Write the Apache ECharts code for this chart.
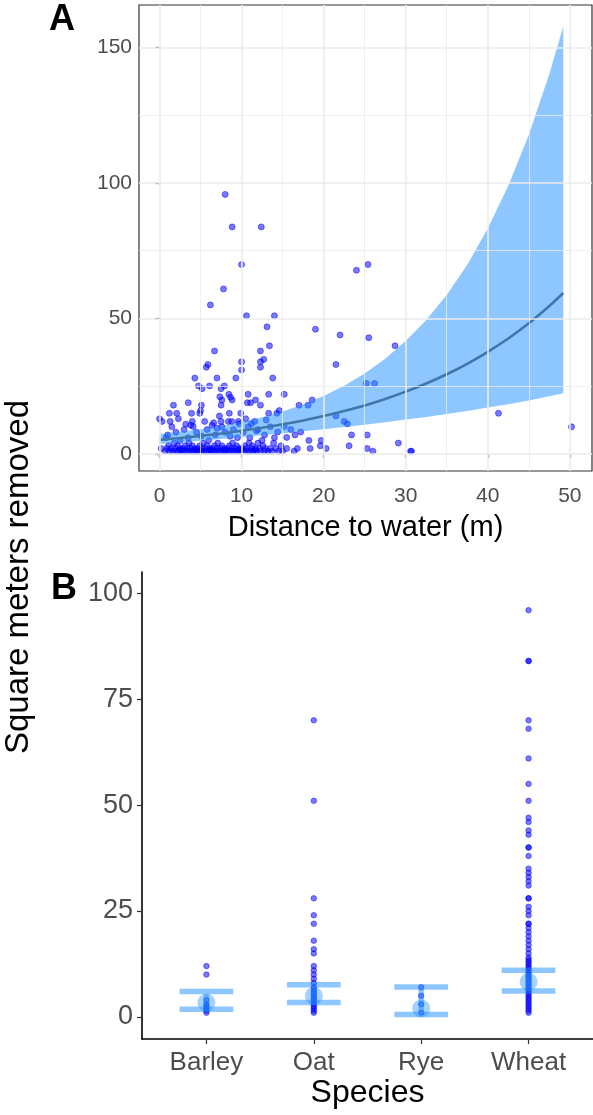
<!DOCTYPE html>
<html><head><meta charset="utf-8">
<script src="https://cdn.jsdelivr.net/npm/echarts@6/dist/echarts.min.js"></script>
<style>html,body{margin:0;padding:0;background:#fff}#c{width:593px;height:1115px}</style>
</head><body><div id="c"></div>
<script>
// ---------- Panel A data: distance to water (m) vs square meters removed ----------
const pointsA = [
  [8.0,95.8],[8.85,83.8],[12.4,83.8],[10.0,69.9],[25.4,69.9],[24.0,67.8],[7.8,60.9],[6.2,55.0],[10.6,51.0],[14.0,51.0],
  [13.1,46.9],[19.0,46.0],[22.0,43.9],[25.5,42.9],[28.7,39.9],[6.7,38.0],[12.3,38.0],[13.4,39.9],[12.7,34.9],[12.3,34.0],
  [10.0,34.0],[10.0,31.0],[12.3,32.0],[5.9,33.0],[5.7,32.0],[21.5,33.0],
  [4.3,28.0],[7.0,28.0],[9.3,28.0],[13.8,28.0],[4.75,25.1],[5.2,24.1],[6.1,25.1],[7.5,24.1],[7.9,25.1],[10.8,22.0],
  [13.3,22.0],[15.2,22.0],[7.35,21.1],[8.45,22.0],[8.65,20.9],[8.85,19.9],[7.6,19.9],[3.5,18.9],[1.7,18.0],[5.1,18.0],
  [7.5,18.0],[10.7,18.9],[11.1,18.9],[11.7,19.9],[12.3,18.0],[17.0,18.0],[18.1,18.0],[18.6,19.9],[25.2,26.0],[26.2,26.0],
  [5.0,16.0],[4.9,15.0],[3.9,15.0],[1.2,15.0],[2.1,15.0],[8.5,15.0],[9.9,15.0],[13.3,15.0],[14.3,15.0],[14.6,16.0],[41.3,15.0],
  [0.0,13.0],[0.3,12.0],[2.3,13.0],[1.3,12.0],[7.3,14.0],[21.5,14.0],[22.5,12.0],[22.9,11.1],[4.1,10.1],[3.8,10.6],
  [6.4,10.6],[6.6,11.5],[7.5,12.0],[7.6,10.0],[8.4,12.0],[8.8,12.0],[9.6,12.0],[9.7,11.1],[11.2,11.1],[11.6,12.0],
  [15.2,10.1],[14.4,8.1],[17.2,8.1],[15.5,6.1],[18.2,5.0],[19.7,5.0],[23.4,7.0],[25.3,7.0],[50.2,10.0],[1.0,7.0],
  [2.0,8.0],[3.0,9.0],[4.5,8.0],[5.1,6.6],[5.8,9.0],[6.8,7.0],[8.0,8.0],[9.0,9.0],[10.2,8.0],[11.0,6.0],
  [12.0,9.0],[12.8,7.0],[13.5,10.0],[14.0,6.0],[16.0,9.0],[3.5,6.0],[2.5,5.0],[6.0,5.0],[9.5,6.0],[10.8,10.0],
  [12.5,5.0],[16.5,7.0],[0.8,6.0],[1.5,10.0],[4.0,12.0],[5.5,12.0],[3.2,11.0],[7.0,9.5],[8.6,6.5],[10.5,13.0],[13.0,12.5],[11.8,8.5],
  [0.7,1],[1.2,1],[1.6,1],[2.0,1],[2.3,1],[2.7,1],[3.0,1],[3.3,1],[3.6,1],[3.9,1],[4.2,1],[4.5,1],[4.8,1],[5.1,1],[5.4,1],
  [5.7,1],[6.0,1],[6.3,1],[6.6,1],[6.9,1],[7.2,1],[7.5,1],[7.8,1],[8.1,1],[8.4,1],[8.7,1],[9.0,1],[9.3,1],[9.6,1],[9.9,1],
  [10.3,1],[10.7,1],[11.0,1],[11.4,1],[11.8,1],[12.3,1],[12.8,1],[13.2,1],[13.7,1],[14.5,1],[15.0,1],[16.4,1],[26.0,1],[30.6,1],[30.7,1],
  [0.2,2],[0.9,2],[1.4,2],[1.9,2],[2.5,2],[2.9,2],[3.4,2],[3.8,2],[4.3,2],[4.7,2],[5.2,2],[5.6,2],[6.1,2],[6.5,2],[7.0,2],
  [7.4,2],[7.9,2],[8.3,2],[8.8,2],[9.2,2],[9.7,2],[10.1,2],[10.6,2],[11.2,2],[11.7,2],[12.2,2],[12.9,2],[13.5,2],[14.2,2],
  [15.5,2],[16.8,2],[18.35,2],[20.3,2],[25.3,2],
  [1.1,3],[2.2,3],[3.1,3],[4.0,3],[4.9,3],[5.8,3],[6.7,3],[7.6,3],[8.5,3],[9.4,3],[10.4,3],[11.3,3],[12.6,3],[14.8,3],[19.6,3],[23.1,3],
  [1.8,4],[3.6,4],[5.3,4],[7.1,4],[8.9,4],[10.9,4],[12.0,4],[13.9,4],[29.1,4],
  [2.6,1.5],[4.4,1.5],[6.2,1.5],[8.0,1.5],[9.8,1.5],[11.6,1.5]
];
// fitted curve and confidence ribbon
const fitX     = [0,2.5,5,7.5,10,12.5,15,17.5,20,22.5,25,27.5,30,32.5,35,37.5,40,42.5,45,47.5,49.2];
const fitMean  = [5.2,5.88,6.66,7.54,8.53,9.66,10.93,12.37,14.0,15.84,17.9,20.29,23.0,25.98,29.4,33.28,37.7,42.62,48.2,54.59,59.4];
const fitUpper = [7.38,8.18,9.15,10.32,11.76,13.52,15.67,18.27,21.4,25.19,29.7,35.16,41.7,49.44,58.7,69.86,83.2,98.98,117.8,140.2,157.8];
const fitLower = [3.66,4.23,4.85,5.51,6.19,6.90,7.62,8.37,9.15,9.96,10.8,11.71,12.7,13.65,14.7,15.85,17.1,18.35,19.7,21.26,22.4];
const xTicksA = [0,10,20,30,40,50];
const xMinorA = [5,15,25,35,45];
const yTicksA = [0,50,100,150];
const yMinorA = [25,75,125];

// ---------- Panel B data: square meters removed by species ----------
const species = ['Barley','Oat','Rye','Wheat'];
const barleyValues = [12,10,4,3,2.5,2,1.5,1];
const oatValues = [70,51,28,24,22,18,16,15,12,11,10,9,8,7,6,5,4,3,2,1,1.5,2.5,3.5,4.5,5.5,6.5];
const ryeValues = [7,5,3,1];
const wheatValues = [96,84,84,70,68,61,55,51,47,46,44,43,40,40,38,35,34,33,32,31,28,28,26,25,24,22,22,21,20,19,18,17,16,15,14,13,12,11,10,9,8,7,6,5,4,3,2,1,1.5,2.5,3.5,4.5,5.5,6.5,7.5,8.5,9.5,10.5,11.5,12.5,13.5];
const speciesMean = [3.4,5.0,2.0,8.3];
const speciesLow  = [1.8,3.4,0.6,6.1];
const speciesHigh = [6.0,7.6,7.1,11.0];
const yTicksB = [0,25,50,75,100];

const FONT = '"Liberation Sans", Arial, Helvetica, sans-serif';
const chart = echarts.init(document.getElementById('c'), null, {renderer:'canvas'});

const gridMarks = [];
xTicksA.forEach(v => gridMarks.push({xAxis:v, lineStyle:{width:1.6}}));
xMinorA.forEach(v => gridMarks.push({xAxis:v, lineStyle:{width:0.8}}));
yTicksA.forEach(v => gridMarks.push({yAxis:v, lineStyle:{width:1.6}}));
yMinorA.forEach(v => gridMarks.push({yAxis:v, lineStyle:{width:0.8}}));

const bPoints = [];
[barleyValues, oatValues, ryeValues, wheatValues].forEach((arr, i) => arr.forEach(v => bPoints.push([i + 1, v])));

const pointStyle = {color:'rgba(0,0,255,0.66)', borderColor:'rgba(0,0,255,0.6)', borderWidth:1};
const ribbonColor = 'rgba(30,144,255,0.5)';

const option = {
  animation: false,
  backgroundColor: '#fff',
  grid: [
    {left:139, top:5, width:453, height:466, show:true, borderColor:'#333333', borderWidth:1.2, backgroundColor:'rgba(0,0,0,0)'},
    {left:142, top:572, width:451, height:467}
  ],
  xAxis: [
    {gridIndex:0, type:'value', min:-2.5, max:52.7,
     axisLine:{show:false},
     axisTick:{show:true, customValues:xTicksA, length:4, lineStyle:{color:'#333333', width:1.2}},
     axisLabel:{customValues:xTicksA, color:'#4D4D4D', fontSize:21, margin:15, fontFamily:FONT},
     splitLine:{show:false}},
    {gridIndex:1, type:'value', min:0.4, max:4.6,
     axisLine:{show:true, onZero:false, lineStyle:{color:'#000', width:1.6}},
     axisTick:{show:true, customValues:[1,2,3,4], length:5, lineStyle:{color:'#333333', width:1.2}},
     axisLabel:{customValues:[1,2,3,4], formatter:v => species[Math.round(v) - 1], color:'#4D4D4D', fontSize:26, margin:11, fontFamily:FONT},
     splitLine:{show:false}}
  ],
  yAxis: [
    {gridIndex:0, type:'value', min:-6.3, max:165.7,
     axisLine:{show:false},
     axisTick:{show:true, customValues:yTicksA, length:4, lineStyle:{color:'#333333', width:1.2}},
     axisLabel:{customValues:yTicksA, color:'#4D4D4D', fontSize:21, margin:7, fontFamily:FONT},
     splitLine:{show:false}},
    {gridIndex:1, type:'value', min:-5.2, max:105,
     axisLine:{show:true, onZero:false, lineStyle:{color:'#000', width:1.6}},
     axisTick:{show:true, customValues:yTicksB, length:5, lineStyle:{color:'#333333', width:1.2}},
     axisLabel:{customValues:yTicksB, color:'#4D4D4D', fontSize:27, margin:9, fontFamily:FONT},
     splitLine:{show:false}}
  ],
  series: [
    // grid lines for panel A (theme_bw style)
    {type:'line', xAxisIndex:0, yAxisIndex:0, z:1, silent:true, showSymbol:false,
     data: fitX.map((x, i) => [x, fitMean[i]]), lineStyle:{opacity:0},
     markLine:{silent:true, symbol:['none','none'], label:{show:false}, animation:false,
       lineStyle:{color:'#EBEBEB', type:'solid'}, data:gridMarks}},
    // scatter points A
    {type:'scatter', xAxisIndex:0, yAxisIndex:0, z:2, symbolSize:6, itemStyle:pointStyle, data:pointsA},
    // confidence ribbon as a polygon through the axis scales
    {type:'custom', xAxisIndex:0, yAxisIndex:0, z:3, silent:true, clip:true,
     data: fitX.map((x, i) => [x, fitLower[i], fitUpper[i]]),
     renderItem: (params, api) => {
       if (params.dataIndex !== 0) return null;
       const pts = [];
       for (let i = 0; i < fitX.length; i++) pts.push(api.coord([fitX[i], fitUpper[i]]));
       for (let i = fitX.length - 1; i >= 0; i--) pts.push(api.coord([fitX[i], fitLower[i]]));
       return {type:'polygon', shape:{points:pts}, style:{fill:ribbonColor, stroke:null}};
     }},
    // fitted curve
    {type:'line', xAxisIndex:0, yAxisIndex:0, z:4, smooth:0.3, showSymbol:false, silent:true,
     lineStyle:{color:'#3f78a8', width:2.6}, data: fitX.map((x, i) => [x, fitMean[i]])},
    // panel B points
    {type:'scatter', xAxisIndex:1, yAxisIndex:1, z:2, symbolSize:5.5, itemStyle:pointStyle, data:bPoints},
    // panel B error bars
    {type:'custom', xAxisIndex:1, yAxisIndex:1, z:3, silent:true,
     data: species.map((s, i) => [i + 1, speciesLow[i], speciesHigh[i]]),
     renderItem: (params, api) => {
       const x = api.value(0), lo = api.value(1), hi = api.value(2);
       const pts = [
         api.coord([x - 0.25, hi]), api.coord([x + 0.25, hi]), api.coord([x, hi]),
         api.coord([x, lo]), api.coord([x - 0.25, lo]), api.coord([x + 0.25, lo])
       ];
       return {type:'polyline', shape:{points:pts},
               style:{stroke:ribbonColor, lineWidth:5.5, fill:null, lineCap:'butt', lineJoin:'miter'}};
     }},
    // panel B means
    {type:'scatter', xAxisIndex:1, yAxisIndex:1, z:4, symbolSize:18, silent:true,
     itemStyle:{color:ribbonColor}, data: species.map((s, i) => [i + 1, speciesMean[i]])}
  ],
  graphic: [
    {type:'text', left:49, top:2, style:{text:'A', font:'bold 36px ' + FONT, fill:'#000'}},
    {type:'text', left:51, top:571, style:{text:'B', font:'bold 36px ' + FONT, fill:'#000'}},
    {type:'text', x:365.5, y:528, style:{text:'Distance to water (m)', font:'29px ' + FONT, fill:'#000', align:'center', verticalAlign:'middle'}},
    {type:'text', x:367.5, y:1093, style:{text:'Species', font:'32px ' + FONT, fill:'#000', align:'center', verticalAlign:'middle'}},
    {type:'text', x:19, y:577, rotation:Math.PI / 2, style:{text:'Square meters removed', font:'33px ' + FONT, fill:'#000', align:'center', verticalAlign:'middle'}}
  ]
};
chart.setOption(option);
</script>
</body></html>
